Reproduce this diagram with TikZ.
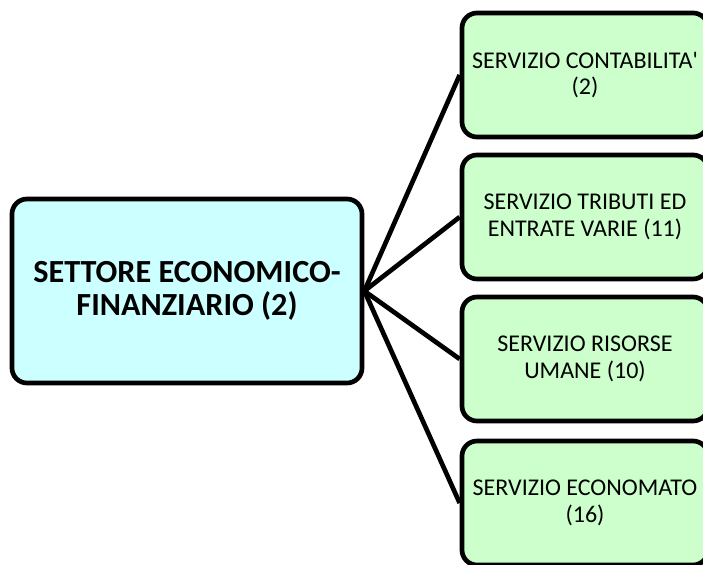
\documentclass[tikz,border=0pt]{standalone}
\usepackage{fontspec}
\setmainfont{Carlito}
\newfontfamily\plainquote[Ligatures=TeXOff]{Carlito}
\usetikzlibrary{positioning}
\definecolor{boxcyan}{HTML}{CCFFFF}
\definecolor{boxgreen}{HTML}{CCFFCC}
\tikzset{
  settore/.style={draw,line width=4pt,rounded corners=0.45cm,fill=boxcyan,
    minimum width=10.5cm,minimum height=5.52cm,align=center,
    font=\fontsize{27.5}{28.5}\selectfont\bfseries},
  servizio/.style={draw,line width=4pt,rounded corners=0.45cm,fill=boxgreen,
    minimum width=7.38cm,minimum height=3.72cm,align=center,
    font=\fontsize{20.5}{22.5}\selectfont},
  link/.style={line width=4pt}
}
\begin{document}
\begin{tikzpicture}[x=0.03cm,y=-0.03cm]
\useasboundingbox (0,0) rectangle (703,565);
\clip (0,0) rectangle (703,565);
\node[settore] (sett) at (187,291) {SETTORE ECONOMICO-\\FINANZIARIO (2)};
\node[servizio] (contab) at (585,75) {SERVIZIO CONTABILITA{\plainquote'}\\(2)};
\node[servizio] (tributi) at (585,217) {SERVIZIO TRIBUTI ED\\ENTRATE VARIE (11)};
\node[servizio] (risorse) at (585,359) {SERVIZIO RISORSE\\UMANE (10)};
\node[servizio] (econ) at (585,503) {SERVIZIO ECONOMATO\\(16)};
\foreach \b in {contab,tributi,risorse,econ}
  \draw[link] (sett.east) -- (\b.west);
\end{tikzpicture}
\end{document}
